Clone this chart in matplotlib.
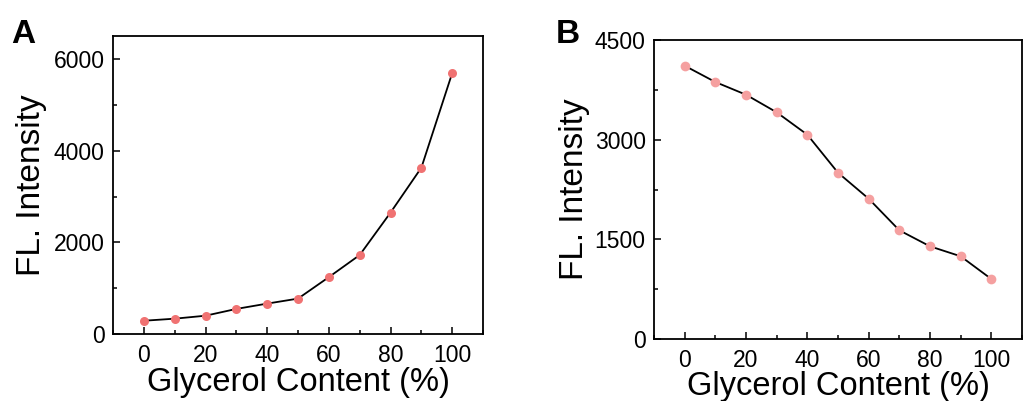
import matplotlib
matplotlib.use("Agg")
import matplotlib.pyplot as plt
from matplotlib.ticker import MultipleLocator

plt.rcParams['font.family'] = ['Liberation Sans', 'DejaVu Sans']

# glycerol content (%)
glycerol = [0, 10, 20, 30, 40, 50, 60, 70, 80, 90, 100]

# panel A: intensity rises with glycerol
fl_a = [290, 335, 400, 548, 664, 773, 1242, 1724, 2650, 3630, 5695]
# panel B: intensity falls with glycerol
fl_b = [4113, 3868, 3677, 3412, 3075, 2503, 2112, 1636, 1395, 1245, 903]

xticks = [0, 20, 40, 60, 80, 100]
yticks_a = [0, 2000, 4000, 6000]
yticks_b = [0, 1500, 3000, 4500]

fig = plt.figure(figsize=(10.23, 4.01), dpi=100)
ax_a = fig.add_axes([0.1105, 0.167, 0.3617, 0.743])
ax_b = fig.add_axes([0.6393, 0.1546, 0.3597, 0.7456])


def style_axis(ax, yticks, ymax, yminor):
    ax.set_xlim(-10, 110)
    ax.set_ylim(0, ymax)
    ax.set_xticks(xticks)
    ax.set_yticks(yticks)
    ax.xaxis.set_minor_locator(MultipleLocator(10))
    ax.yaxis.set_minor_locator(MultipleLocator(yminor))
    ax.tick_params(which='both', direction='in', labelsize=16.5, width=1.1)
    ax.tick_params(which='major', length=5, pad=6)
    ax.tick_params(which='minor', length=3)
    ax.tick_params(axis='x', which='major', pad=7)
    for s in ax.spines.values():
        s.set_linewidth(1.3)
    ax.set_xlabel('Glycerol Content (%)', fontsize=23.5)
    ax.set_ylabel('FL. Intensity', fontsize=24)


ax_a.plot(glycerol, fl_a, color='black', lw=1.3, zorder=2)
ax_a.plot(glycerol, fl_a, 'o', color='#F07272', ms=6.5, mec='none', zorder=3)
style_axis(ax_a, yticks_a, 6500, 1000)
ax_a.yaxis.set_label_coords(-0.178, 0.5)
ax_a.xaxis.set_label_coords(0.5, -0.11)

ax_b.plot(glycerol, fl_b, color='black', lw=1.3, zorder=2)
ax_b.plot(glycerol, fl_b, 'o', color='#F5A0A0', ms=7, mec='none', zorder=3)
style_axis(ax_b, yticks_b, 4500, 750)
ax_b.yaxis.set_label_coords(-0.173, 0.5)
ax_b.xaxis.set_label_coords(0.5, -0.108)

fig.text(0.011, 0.893, 'A', fontsize=24, fontweight='bold')
fig.text(0.543, 0.893, 'B', fontsize=24, fontweight='bold')

fig.savefig('out.png', dpi=100)
